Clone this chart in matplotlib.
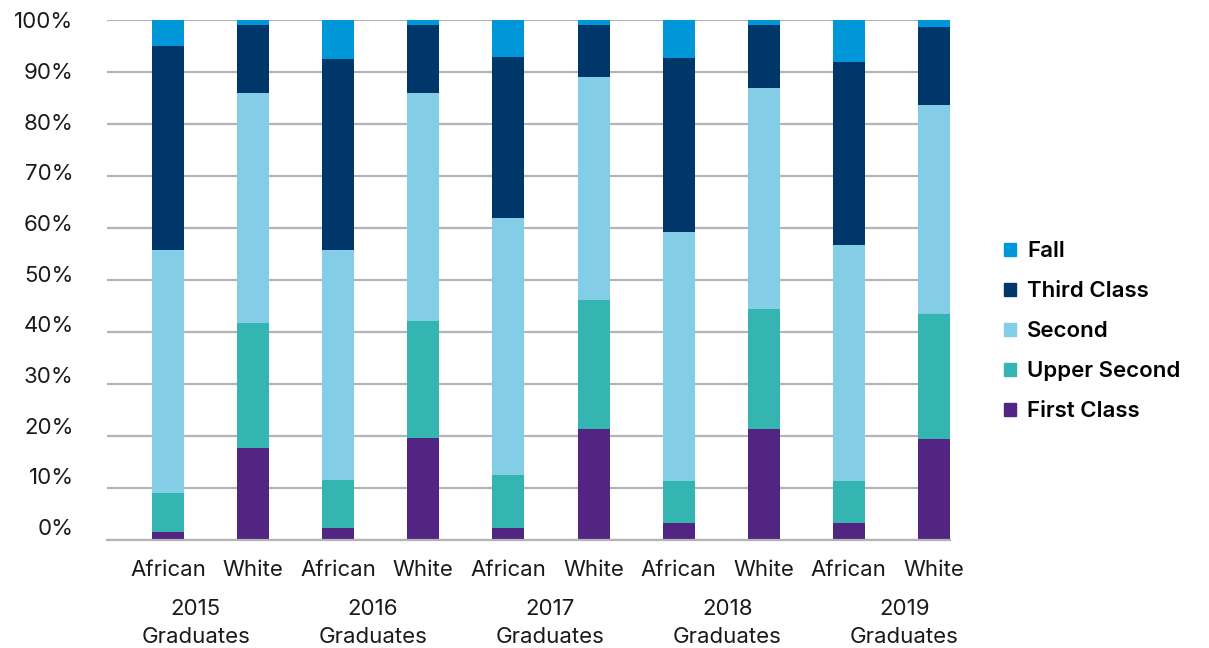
import numpy as np
import matplotlib
matplotlib.use("Agg")
import matplotlib.pyplot as plt
from matplotlib.patches import Patch

plt.rcParams['font.family'] = ['Inter', 'DejaVu Sans']

# Degree class shares (%) per group, bottom to top of each stack
groups = ['African', 'White'] * 5
years = ['2015', '2016', '2017', '2018', '2019']
first_class = [1.4, 17.6, 2.2, 19.6, 2.2, 21.3, 3.2, 21.3, 3.2, 19.4]
upper_second = [7.6, 24.1, 9.3, 22.5, 10.2, 24.8, 8.1, 23.1, 8.1, 24.0]
second = [46.8, 44.3, 44.3, 43.9, 49.5, 43.0, 47.9, 42.6, 45.4, 40.3]
third_class = [39.3, 13.1, 36.8, 13.1, 31.1, 10.0, 33.6, 12.1, 35.3, 15.0]
fall = [4.9, 0.9, 7.4, 0.9, 7.0, 0.9, 7.2, 0.9, 8.0, 1.3]

series = [
    ('First Class', first_class, '#522582'),
    ('Upper Second', upper_second, '#35b5b2'),
    ('Second', second, '#83cde6'),
    ('Third Class', third_class, '#00376a'),
    ('Fall', fall, '#0097d9'),
]

fig = plt.figure(figsize=(12.09, 6.48), dpi=100)
rect = [0.0885, 0.1674, 0.6973, 0.801]
ax = fig.add_axes(rect)

x = np.arange(len(groups))
bottom = np.zeros(len(groups))
for name, vals, color in series:
    vals = np.array(vals)
    ax.bar(x, vals, width=0.376, bottom=bottom, color=color, zorder=3, label=name)
    bottom += vals

ax.set_ylim(0, 100)
ax.set_xlim(-0.717, 9.189)
ax.set_yticks(np.arange(0, 101, 10))
ax.set_yticklabels([])
ax.yaxis.grid(True, color='#b4b4b4', linewidth=1.6, zorder=0)
ax.set_axisbelow(True)
for side in ['left', 'right', 'top']:
    ax.spines[side].set_visible(False)
ax.spines['bottom'].set_color('#b4b4b4')
ax.spines['bottom'].set_linewidth(1.6)
ax.spines['bottom'].set_zorder(4)

ax.set_xticks(x)
ax.set_xticklabels(groups)
ax.tick_params(axis='x', length=0, pad=15, labelsize=16, labelcolor='#1a1a1a')
ax.tick_params(axis='y', length=0)

# percentage labels sit on a slightly taller scale than the gridlines
lab = fig.add_axes(rect, frameon=False, zorder=-1)
lab.set_ylim(-2.47, 100)
lab.set_yticks(np.arange(0, 101, 10))
lab.set_yticklabels([f'{v}%' for v in range(0, 101, 10)])
lab.set_xticks([])
lab.tick_params(axis='y', length=0, pad=24, labelsize=16, labelcolor='#1a1a1a')

# year labels, one per group slot spread across the category band
group_w = 0.2102
for j, yr in enumerate(years):
    ax.annotate(f'{yr}\nGraduates', xy=((j + 0.5) * group_w, 0), xycoords='axes fraction',
                xytext=(0, -43), textcoords='offset points', ha='center', va='top',
                fontsize=16, linespacing=1.5, color='#1a1a1a')

handles = [Patch(color=c, label=n) for n, _, c in series[::-1]]
fig.legend(handles=handles, loc='center left', bbox_to_anchor=(0.8304, 0.489),
           frameon=False, borderaxespad=0, borderpad=0,
           handlelength=0.55, handleheight=0.55, handletextpad=0.5,
           labelspacing=0.9, prop={'weight': 'semibold', 'size': 16})

fig.savefig('out.png', dpi=100)
